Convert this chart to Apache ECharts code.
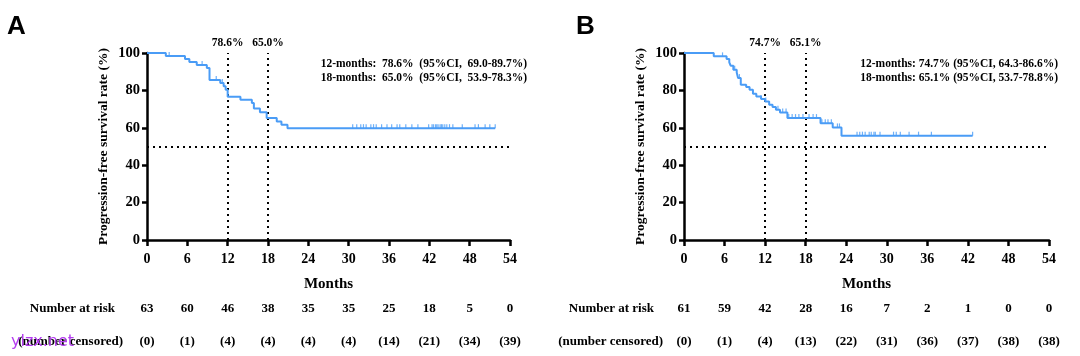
<!DOCTYPE html>
<html><head><meta charset="utf-8">
<script src="https://cdn.jsdelivr.net/npm/echarts@6/dist/echarts.min.js"></script>
<style>html,body{margin:0;padding:0;background:#fff}#c{width:1080px;height:356px}</style>
</head><body><div id="c"></div>
<script>
// ---------- data ----------
const monthTicks = [0, 6, 12, 18, 24, 30, 36, 42, 48, 54];
const yTicks = [0, 20, 40, 60, 80, 100];

// Panel A Kaplan-Meier steps (time in months, survival %)
const kmTimeA = [0, 2.8, 5.65, 6.3, 7.4, 8.9, 9.3, 10.9, 11.4, 11.7, 12.0, 13.9, 15.6, 15.9, 16.8, 17.8, 19.3, 20.0, 20.9, 51.8];
const kmSurvA = [100, 98.4, 96.8, 95.2, 93.6, 92.0, 85.6, 83.9, 82.2, 80.4, 76.6, 75.0, 73.2, 70.3, 68.3, 65.2, 63.4, 61.6, 59.8, 59.8];
const censorA = [3.3, 8.2, 10.3, 11.2, 30.6, 31.2, 31.8, 32.2, 32.6, 33.3, 33.7, 34.1, 34.9, 35.7,
  36.4, 37.2, 37.6, 38.5, 39.4, 40.3, 41.9, 42.4, 42.6, 42.9, 43.1, 43.3, 43.6, 43.8, 44.0, 44.3, 44.6, 45.0, 45.5, 46.9,
  48.8, 49.3, 50.3, 51.0, 51.8];
const riskA = [63, 60, 46, 38, 35, 35, 25, 18, 5, 0];
const censoredA = [0, 1, 4, 4, 4, 4, 14, 21, 34, 39];
const marksA = [12, 18];
const markLabelsA = ['78.6%', '65.0%'];
const noteA = ['12-months:  78.6%  (95%CI,  69.0-89.7%)', '18-months:  65.0%  (95%CI,  53.9-78.3%)'];

// Panel B
const kmTimeB = [0, 4.4, 6.3, 6.7, 6.9, 7.3, 7.8, 8.0, 8.4, 9.2, 9.7, 10.2, 10.7, 11.4, 12.0, 12.6, 13.1, 13.6, 14.2, 15.3, 20.2, 22.0, 23.3, 42.7];
const kmSurvB = [100, 98.2, 96.8, 95.0, 93.2, 91.0, 89.6, 86.6, 83.0, 81.8, 80.4, 78.2, 76.8, 75.4, 74.1, 72.3, 71.1, 69.6, 68.2, 65.2, 62.5, 60.2, 55.8, 55.8];
const censorB = [5.7, 7.5, 8.2, 11.4, 12.1, 13.9, 14.6, 15.1, 15.5, 16.0, 16.5, 17.0, 17.6,
  18.5, 19.1, 19.6, 20.4, 20.9, 21.3, 21.8, 22.7, 23.0,
  25.6, 26.0, 26.4, 26.8, 27.4, 27.7, 28.1, 28.3, 29.0,
  31.0, 31.4, 32.0, 33.3, 34.7, 36.6, 42.7];
const riskB = [61, 59, 42, 28, 16, 7, 2, 1, 0, 0];
const censoredB = [0, 1, 4, 13, 22, 31, 36, 37, 38, 38];
const marksB = [12, 18];
const markLabelsB = ['74.7%', '65.1%'];
const noteB = ['12-months: 74.7% (95%CI, 64.3-86.6%)', '18-months: 65.1% (95%CI, 53.7-78.8%)'];

// ---------- chart ----------
const BLUE = '#4a9cf6';
const SERIF = '"Liberation Serif", "Times New Roman", serif';

function survAt(times, surv, t) {
  let s = surv[0];
  for (let i = 0; i < times.length; i++) if (times[i] <= t) s = surv[i];
  return s;
}

const grids = [
  { left: 147, top: 53, width: 363, height: 187 },
  { left: 684, top: 53, width: 365, height: 187 }
];

function mainX(g) {
  return {
    gridIndex: g, type: 'value', min: 0, max: 54, interval: 6,
    axisLine: { show: true, lineStyle: { color: '#000', width: 2.5 } },
    axisTick: { show: true, length: 6, lineStyle: { color: '#000', width: 2.5 } },
    axisLabel: { margin: 12, color: '#000', fontFamily: SERIF, fontWeight: 'bold', fontSize: 14, showMinLabel: true, showMaxLabel: true },
    splitLine: { show: false },
    name: 'Months', nameLocation: 'middle', nameGap: 37,
    nameTextStyle: { color: '#000', fontFamily: SERIF, fontWeight: 'bold', fontSize: 15 }
  };
}
function tableX(g, offset, name, nameGap, arr, paren) {
  return {
    gridIndex: g, type: 'value', min: 0, max: 54, interval: 6, position: 'bottom', offset: offset,
    axisLine: { show: false }, axisTick: { show: false }, splitLine: { show: false },
    axisLabel: {
      margin: 0, verticalAlign: 'middle', color: '#000', fontFamily: SERIF, fontWeight: 'bold', fontSize: 13,
      showMinLabel: true, showMaxLabel: true,
      formatter: v => { const x = arr[Math.round(v / 6)]; return paren ? '(' + x + ')' : String(x); }
    },
    name: name, nameLocation: 'start', nameGap: nameGap,
    nameTextStyle: { color: '#000', fontFamily: SERIF, fontWeight: 'bold', fontSize: 13 }
  };
}
function mainY(g) {
  return {
    gridIndex: g, type: 'value', min: 0, max: 100, interval: 20,
    axisLine: { show: true, lineStyle: { color: '#000', width: 2.5 } },
    axisTick: { show: true, length: 5, lineStyle: { color: '#000', width: 2.5 } },
    axisLabel: { margin: 7, color: '#000', fontFamily: SERIF, fontWeight: 'bold', fontSize: 14.5 },
    splitLine: { show: false },
    name: 'Progression-free survival rate (%)', nameLocation: 'middle', nameGap: 36,
    nameTextStyle: { color: '#000', fontFamily: SERIF, fontWeight: 'bold', fontSize: 13.5 }
  };
}

function kmSeries(xi, yi, times, surv, marks, labels) {
  return {
    type: 'line', xAxisIndex: xi, yAxisIndex: yi, step: 'end', symbol: 'none', silent: true,
    lineStyle: { color: BLUE, width: 2 }, z: 5,
    data: times.map((t, i) => [t, surv[i]]),
    markLine: {
      silent: true, symbol: 'none', animation: false,
      lineStyle: { color: '#000', width: 2, type: [2, 4] },
      data: [
        ...marks.map((m, i) => ({ xAxis: m, label: { show: true, position: 'end', distance: 4, formatter: labels[i], color: '#000', fontFamily: SERIF, fontWeight: 'bold', fontSize: 11.5 } })),
        { yAxis: 50, label: { show: false }, lineStyle: { type: [2, 4] } }
      ]
    }
  };
}
function censorSeries(xi, yi, times, surv, cens) {
  return {
    type: 'scatter', xAxisIndex: xi, yAxisIndex: yi, silent: true, z: 6,
    symbol: 'rect', symbolSize: [1.2, 4], symbolOffset: [0, -2],
    itemStyle: { color: BLUE },
    data: cens.map(t => [t, survAt(times, surv, t)])
  };
}

function note(x, y, txt) {
  return { type: 'text', x: x, y: y, style: { text: txt, fill: '#000', font: 'bold 11.5px ' + SERIF, textAlign: 'right', textVerticalAlign: 'middle' } };
}

const option = {
  animation: false,
  backgroundColor: '#fff',
  grid: grids,
  xAxis: [
    mainX(0),
    tableX(0, 69, 'Number at risk', 32, riskA, false),
    tableX(0, 102, '(number censored)', 24, censoredA, true),
    mainX(1),
    tableX(1, 69, 'Number at risk', 30, riskB, false),
    tableX(1, 102, '(number censored)', 21, censoredB, true)
  ],
  yAxis: [mainY(0), mainY(1)],
  series: [
    kmSeries(0, 0, kmTimeA, kmSurvA, marksA, markLabelsA),
    censorSeries(0, 0, kmTimeA, kmSurvA, censorA),
    kmSeries(3, 1, kmTimeB, kmSurvB, marksB, markLabelsB),
    censorSeries(3, 1, kmTimeB, kmSurvB, censorB)
  ],
  graphic: [
    { type: 'text', x: 7, y: 14, style: { text: 'A', fill: '#000', font: 'bold 26px "Liberation Sans", Arial, sans-serif' } },
    { type: 'text', x: 576, y: 14, style: { text: 'B', fill: '#000', font: 'bold 26px "Liberation Sans", Arial, sans-serif' } },
    note(527, 64, noteA[0]), note(527, 78, noteA[1]),
    note(1058, 64, noteB[0]), note(1058, 78, noteB[1]),
    { type: 'text', x: 11, y: 342, style: { text: 'ylzx.net', fill: '#b43cf0', font: '16px "DejaVu Sans", sans-serif', textVerticalAlign: 'middle' }, z: 100 }
  ]
};

echarts.init(document.getElementById('c'), null, { renderer: 'canvas' }).setOption(option);
</script>
</body></html>
